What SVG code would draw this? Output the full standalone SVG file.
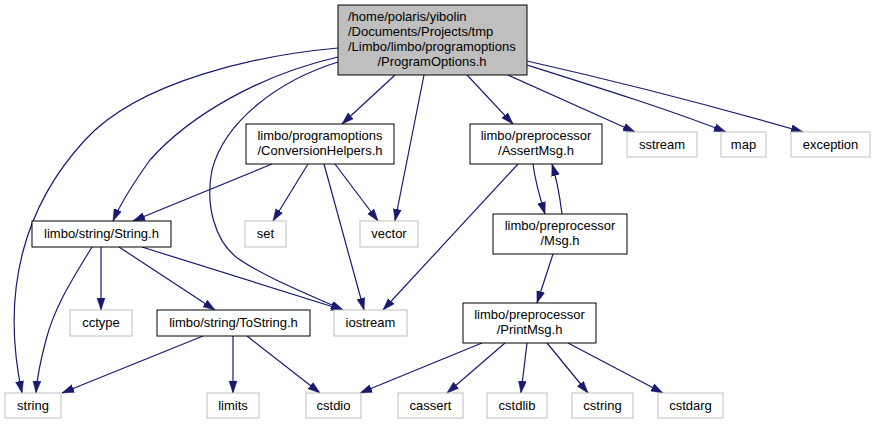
<svg xmlns="http://www.w3.org/2000/svg" width="875" height="424" viewBox="0 0 875 424">
<style>
  text { font-family: "Liberation Sans", Arial, sans-serif; font-size: 13px; fill: #000; }
  .c { text-anchor: middle; }
  .doc { fill: #fff; stroke: #000; stroke-width: 1; }
  .root { fill: #bfbfbf; stroke: #000; stroke-width: 1; }
  .leaf { fill: #fff; stroke: #bfbfbf; stroke-width: 1; }
  .e { fill: none; stroke: #191970; stroke-width: 1.2; marker-end: url(#ah); }
</style>
<defs>
  <marker id="ah" markerUnits="userSpaceOnUse" markerWidth="12" markerHeight="9" refX="12" refY="4.5" orient="auto">
    <path d="M0,0.5 L12,4.5 L0,8.5 z" fill="#191970" stroke="#191970" stroke-width="0.5"/>
  </marker>
</defs>
<rect width="875" height="424" fill="#fff"/>
<g id="edges">
  <path class="e" d="M338,48 C260,55 140,80 85,140 C25,205 0,290 22,393"/>
  <path class="e" d="M338,57 C260,75 190,115 150,160 C132,185 120,205 113,221"/>
  <path class="e" d="M338,62 C280,80 225,120 212,170 C205,205 215,240 236,257 C262,276 310,295 343,310"/>
  <path class="e" d="M395,75 L342,124"/>
  <path class="e" d="M424,75 L395,221"/>
  <path class="e" d="M467,75 L513,124"/>
  <path class="e" d="M508,75 L635,132"/>
  <path class="e" d="M527,65 C600,88 670,110 726,132"/>
  <path class="e" d="M527,61 C620,82 720,108 803,132"/>
  <path class="e" d="M272,164 L133,221"/>
  <path class="e" d="M308,164 L273,221"/>
  <path class="e" d="M324,164 L364,310"/>
  <path class="e" d="M335,164 L378,221"/>
  <path class="e" d="M518,164 L383,310"/>
  <path class="e" d="M533,164 C535,180 540,198 545,214"/>
  <path class="e" d="M562,214 C560,198 557,180 552,164"/>
  <path class="e" d="M553,254 L537,303"/>
  <path class="e" d="M92,247 C75,275 55,305 46,340 C40,362 37,380 36,393"/>
  <path class="e" d="M101,247 L101,310"/>
  <path class="e" d="M119,247 L215,310"/>
  <path class="e" d="M142,247 L343,310"/>
  <path class="e" d="M203,336 L62,393"/>
  <path class="e" d="M233,336 L233,393"/>
  <path class="e" d="M247,336 L320,393"/>
  <path class="e" d="M482,343 L360,393"/>
  <path class="e" d="M505,343 L447,393"/>
  <path class="e" d="M527,343 L521,393"/>
  <path class="e" d="M547,343 L588,393"/>
  <path class="e" d="M568,343 L663,393"/>
</g>
<g id="n_root">
  <rect class="root" x="338" y="5" width="189" height="70"/>
  <text x="348" y="21">/home/polaris/yibolin</text>
  <text x="348" y="36">/Documents/Projects/tmp</text>
  <text x="348" y="51">/Limbo/limbo/programoptions</text>
  <text class="c" x="432" y="66">/ProgramOptions.h</text>
</g>
<g id="n_conv">
  <rect class="doc" x="246" y="124" width="148" height="40"/>
  <text class="c" x="320" y="140">limbo/programoptions</text>
  <text class="c" x="320" y="155">/ConversionHelpers.h</text>
</g>
<g id="n_assert">
  <rect class="doc" x="470" y="124" width="132" height="40"/>
  <text class="c" x="536" y="140">limbo/preprocessor</text>
  <text class="c" x="536" y="155">/AssertMsg.h</text>
</g>
<g id="n_msg">
  <rect class="doc" x="493" y="214" width="134" height="40"/>
  <text class="c" x="560" y="230">limbo/preprocessor</text>
  <text class="c" x="560" y="245">/Msg.h</text>
</g>
<g id="n_printmsg">
  <rect class="doc" x="463" y="303" width="133" height="40"/>
  <text class="c" x="529.5" y="319">limbo/preprocessor</text>
  <text class="c" x="529.5" y="334">/PrintMsg.h</text>
</g>
<g id="n_stringh">
  <rect class="doc" x="32" y="221" width="139" height="26"/>
  <text class="c" x="101.5" y="238">limbo/string/String.h</text>
</g>
<g id="n_tostring">
  <rect class="doc" x="157" y="310" width="153" height="26"/>
  <text class="c" x="233.5" y="327">limbo/string/ToString.h</text>
</g>
<g id="n_sstream">
  <rect class="leaf" x="627" y="132" width="70" height="25"/>
  <text class="c" x="662" y="149">sstream</text>
</g>
<g id="n_map">
  <rect class="leaf" x="721" y="132" width="45" height="25"/>
  <text class="c" x="743.5" y="149">map</text>
</g>
<g id="n_exception">
  <rect class="leaf" x="791" y="132" width="79" height="25"/>
  <text class="c" x="830.5" y="149">exception</text>
</g>
<g id="n_set">
  <rect class="leaf" x="245" y="221" width="41" height="26"/>
  <text class="c" x="265.5" y="238">set</text>
</g>
<g id="n_vector">
  <rect class="leaf" x="360" y="221" width="58" height="26"/>
  <text class="c" x="389" y="238">vector</text>
</g>
<g id="n_cctype">
  <rect class="leaf" x="70" y="310" width="62" height="26"/>
  <text class="c" x="101" y="327">cctype</text>
</g>
<g id="n_iostream">
  <rect class="leaf" x="334" y="310" width="73" height="26"/>
  <text class="c" x="370.5" y="327">iostream</text>
</g>
<g id="n_string">
  <rect class="leaf" x="5" y="393" width="56" height="25"/>
  <text class="c" x="33" y="410">string</text>
</g>
<g id="n_limits">
  <rect class="leaf" x="207" y="393" width="52" height="25"/>
  <text class="c" x="233" y="410">limits</text>
</g>
<g id="n_cstdio">
  <rect class="leaf" x="306" y="393" width="55" height="25"/>
  <text class="c" x="333.5" y="410">cstdio</text>
</g>
<g id="n_cassert">
  <rect class="leaf" x="398" y="393" width="65" height="25"/>
  <text class="c" x="430.5" y="410">cassert</text>
</g>
<g id="n_cstdlib">
  <rect class="leaf" x="487" y="393" width="60" height="25"/>
  <text class="c" x="517" y="410">cstdlib</text>
</g>
<g id="n_cstring">
  <rect class="leaf" x="572" y="393" width="61" height="25"/>
  <text class="c" x="602.5" y="410">cstring</text>
</g>
<g id="n_cstdarg">
  <rect class="leaf" x="658" y="393" width="65" height="25"/>
  <text class="c" x="690.5" y="410">cstdarg</text>
</g>
</svg>
